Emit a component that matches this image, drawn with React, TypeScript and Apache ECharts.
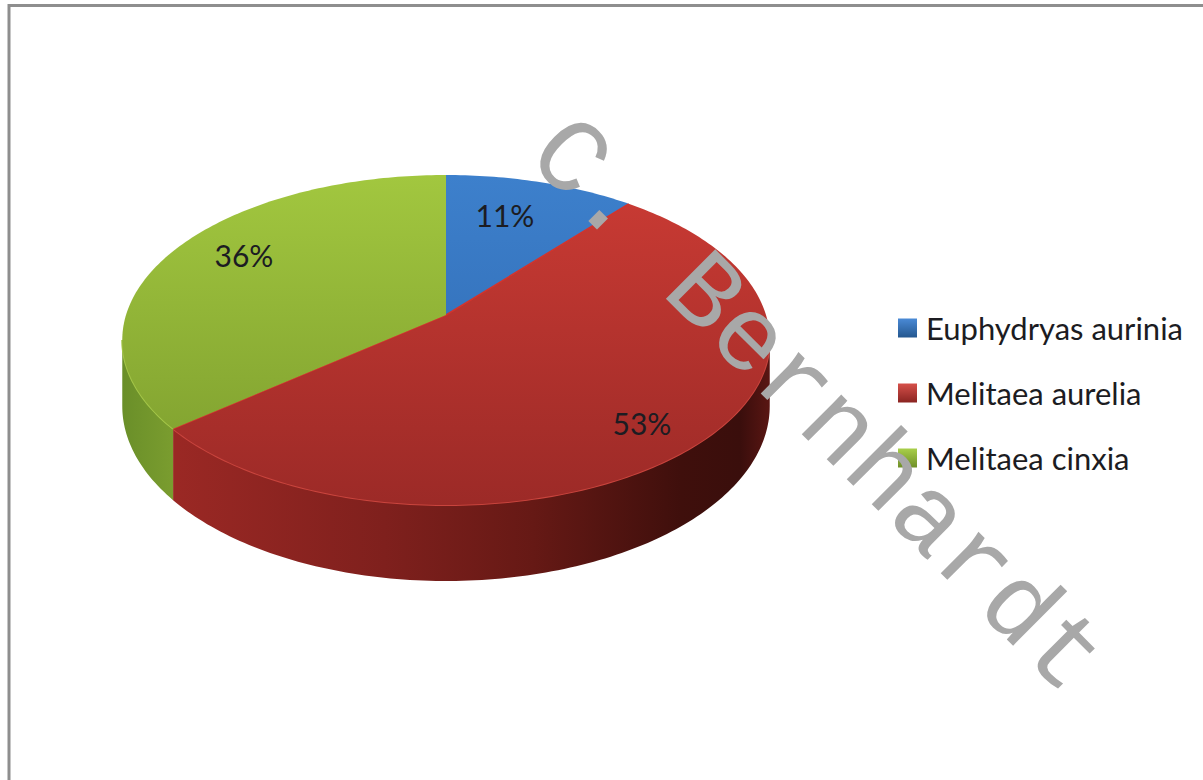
import React, { useEffect, useRef } from "react";
import * as echarts from "echarts";

const species = ["Euphydryas aurinia", "Melitaea aurelia", "Melitaea cinxia"];
const shares = [11, 53, 36];
const watermark = "C. Bernhardt";

const topColors = [
  ["#3d80cc", "#2d66ad"],
  ["#cb3b34", "#9c2a27"],
  ["#a2c73f", "#7b9b2d"],
];
const sideStops = [
  [[0, "#2d66ad"], [1, "#1d4474"]],
  [[0, "#9a2824"], [0.35, "#7f201d"], [0.6, "#661915"], [0.85, "#3f0f0c"], [0.95, "#3a0e0c"], [1, "#5a1613"]],
  [[0, "#6a8f29"], [1, "#7d9f30"]],
];
const rimColors = ["#4c8cd6", "#c9443d", "#a4c648"];
const legendLight = ["#4a8ad6", "#d6504a", "#a9cf4a"];
const legendDark = ["#24578f", "#8a2421", "#6f8f28"];
const labelPos = [
  [505, 215],
  [642, 423],
  [244, 255],
];

const CX = 446, CY = 315, A = 320, B = 161.2, K = 0.1515, DEPTH = 64.5;
const FONT = "Lato";

const project = (deg: number, r = 1, drop = 0) => {
  const t = (deg * Math.PI) / 180;
  const w = 1 / (1 + K * Math.cos(t) * r);
  return [CX + A * Math.sin(t) * r * w, CY - B * Math.cos(t) * r * w + drop * w];
};
const arc = (from: number, to: number, drop = 0) => {
  const pts: number[][] = [];
  const n = Math.max(2, Math.ceil(Math.abs(to - from)));
  for (let i = 0; i <= n; i++) pts.push(project(from + ((to - from) * i) / n, 1, drop));
  return pts;
};
const grad = (x: number, y: number, x2: number, y2: number, colorStops: any[]) => ({
  type: "linear", x, y, x2, y2, global: true, colorStops,
});
const sliceRange = (i: number) => {
  const total = shares.reduce((a, b) => a + b, 0);
  const before = shares.slice(0, i).reduce((a, b) => a + b, 0);
  return [(before / total) * 360, ((before + shares[i]) / total) * 360];
};

const VIS_FROM = (Math.acos(-K) * 180) / Math.PI;
const VIS_TO = 360 - VIS_FROM;

const renderSlice = (params: any, api: any) => {
  const i = params.seriesIndex;
  const [start, end] = sliceRange(i);
  const value = api.value(0);
  const children: any[] = [];
  const a = Math.max(start, VIS_FROM), b = Math.min(end, VIS_TO);
  if (b > a) {
    const upper = arc(a, b, 0);
    const lower = arc(a, b, DEPTH).reverse();
    children.push({
      type: "polygon",
      shape: { points: upper.concat(lower) },
      style: {
        fill: grad(i === 1 ? 177 : 122, 0, i === 1 ? 770 : 182, 0,
          sideStops[i].map((s) => ({ offset: s[0], color: s[1] }))),
      },
    });
    children.push({
      type: "polyline",
      shape: { points: upper },
      style: { stroke: rimColors[i], lineWidth: 2, fill: "none" },
    });
  }
  children.push({
    type: "polygon",
    shape: { points: [[CX, CY]].concat(arc(start, end)) },
    style: {
      fill: grad(0, 175, 0, 505, [
        { offset: 0, color: topColors[i][0] },
        { offset: 1, color: topColors[i][1] },
      ]),
    },
  });
  if (i === 1) {
    children.push({
      type: "polyline",
      shape: { points: [project(end), [CX, CY], project(start)] },
      style: { stroke: "#d2332c", lineWidth: 1.5, fill: "none" },
    });
  }
  children.push({
    type: "text",
    z2: 20,
    style: {
      text: `${value}%`,
      x: labelPos[i][0],
      y: labelPos[i][1],
      fontSize: 30,
      fontFamily: FONT,
      fill: "#1c1c22",
      align: "center",
      verticalAlign: "middle",
    },
  });
  return { type: "group", children };
};

export default function App() {
  const ref = useRef<HTMLDivElement>(null);
  useEffect(() => {
    const chart = echarts.init(ref.current!, null, { renderer: "svg" });
    chart.setOption({
      animation: false,
      backgroundColor: "#ffffff",
      legend: {
        orient: "vertical",
        left: 893,
        top: 305,
        itemWidth: 19,
        itemHeight: 19,
        itemGap: 29,
        icon: "rect",
        selectedMode: false,
        data: species.map((name, i) => ({
          name,
          itemStyle: {
            color: {
              type: "linear", x: 0, y: 0, x2: 0, y2: 1,
              colorStops: [
                { offset: 0, color: legendLight[i] },
                { offset: 1, color: legendDark[i] },
              ],
            },
          },
        })),
        textStyle: { fontFamily: FONT, fontSize: 31, color: "#1c1c22", padding: [0, 0, 0, 4], lineHeight: 36 },
      },
      series: species.map((name, i) => ({
        type: "custom",
        name,
        coordinateSystem: "none",
        renderItem: renderSlice,
        data: [[shares[i]]],
        itemStyle: { color: legendDark[i] },
        silent: true,
      })),
      graphic: [
        {
          type: "polyline",
          z: 50,
          shape: { points: [[9, 790], [9, 5.5], [1215, 5.5]] },
          style: { stroke: "#8e8e8e", lineWidth: 3, fill: "none" },
        },
        {
          type: "text",
          z: 100,
          x: 545,
          y: 138,
          rotation: -Math.PI / 4,
          style: {
            text: watermark,
            fontFamily: "Liberation Mono",
            fontSize: 106,
            fill: "#a8a8a8",
            align: "left",
            verticalAlign: "middle",
          },
        },
      ],
    });
    return () => chart.dispose();
  }, []);
  return <div ref={ref} style={{ position: "fixed", left: 0, top: 0, width: 1203, height: 780 }} />;
}
